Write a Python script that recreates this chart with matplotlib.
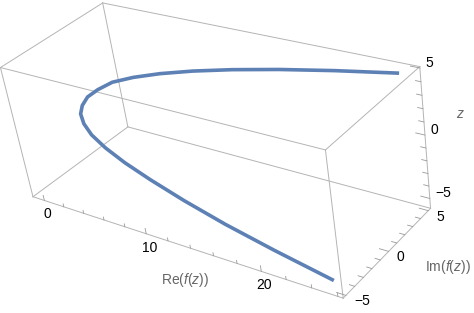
import matplotlib
matplotlib.use('Agg')
import matplotlib.pyplot as plt
from matplotlib.transforms import offset_copy

# curve points (Re f, Im f, z)
re_vals = [25.6, 20.7, 16.3, 12.4, 9.0, 6.25, 4.0, 2.25, 1.1, 0.4, 0.2,
           0.4, 1.1, 2.25, 4.0, 6.25, 9.0, 12.25, 16.0, 20.25, 25.0]
im_vals = [-5.0, -4.5, -4.0, -3.5, -3.0, -2.5, -2.0, -1.5, -1.0, -0.5, 0.0,
           0.5, 1.0, 1.5, 2.0, 2.5, 3.0, 3.5, 4.0, 4.5, 5.0]
z_vals = [-4.9, -4.45, -4.0, -3.5, -3.0, -2.6, -2.2, -1.8, -1.4, -1.0, -0.6,
          -0.1, 0.4, 1.0, 1.5, 2.0, 2.5, 3.0, 3.5, 4.0, 4.5]

re_ticks = [0, 10, 20]
im_ticks = [-5, 0, 5]
z_ticks = [-5, 0, 5]

re_lim = (-1.2, 26.4)
im_lim = (-5.3, 5.3)
z_lim = (-5.8, 5.1)

line_col = '#5e81b5'
box_col = '#b4b4b4'
tick_col = '#999999'
lab_col = '#666666'

plt.rcParams['font.family'] = 'Liberation Sans'
plt.rcParams['mathtext.fontset'] = 'custom'
plt.rcParams['mathtext.rm'] = 'Liberation Sans'
plt.rcParams['mathtext.it'] = 'Liberation Sans:italic'

fig = plt.figure(figsize=(4.74, 3.13), dpi=100)
ax = fig.add_axes([-0.3986, -0.2892, 1.6604, 1.6604], projection='3d',
                  proj_type='persp', focal_length=0.4802)
ax.set_axis_off()
ax.set_xlim(re_lim)
ax.set_ylim(im_lim)
ax.set_zlim(z_lim)
ax.set_box_aspect((1, 0.4034, 0.3990), zoom=0.85)
ax.view_init(elev=29.865, azim=-47.889, roll=9.551)

x0, x1 = re_lim
y0, y1 = im_lim
z0, z1 = z_lim

# bounding box, 12 edges
for ya in (y0, y1):
    for za in (z0, z1):
        ax.plot((x0, x1), (ya, ya), (za, za), color=box_col, lw=0.7)
for xa in (x0, x1):
    for za in (z0, z1):
        ax.plot((xa, xa), (y0, y1), (za, za), color=box_col, lw=0.7)
for xa in (x0, x1):
    for ya in (y0, y1):
        ax.plot((xa, xa), (ya, ya), (z0, z1), color=box_col, lw=0.7)

# tick marks
for v in range(0, 27, 2):
    L = 0.45 if v % 10 == 0 else 0.25
    ax.plot((v, v), (y0, y0), (z0, z0 + L), color=tick_col, lw=0.6)
for v in range(-5, 6):
    L = 0.7 if v % 5 == 0 else 0.4
    ax.plot((x1, x1 - L), (v, v), (z0, z0), color=tick_col, lw=0.6)
for v in range(-5, 6):
    L = 0.7 if v % 5 == 0 else 0.4
    ax.plot((x1, x1 - L), (y1, y1), (v, v), color=tick_col, lw=0.6)


def off(dx, dy):
    return offset_copy(ax.transData, fig=fig, x=dx, y=dy, units='dots')


for v in re_ticks:
    ax.text(v, y0, z0, str(v), ha='center', va='center', fontsize=10,
            transform=off(3, -14))
for v in im_ticks:
    ax.text(x1, v, z0, str(v).replace('-', '\u2212'), ha='left', va='center',
            fontsize=10, transform=off(8, -6))
for v in z_ticks:
    ax.text(x1, y1, v, str(v).replace('-', '\u2212'), ha='left', va='center',
            fontsize=10, transform=off(6, 5))

ax.text(13.5, y0, z0, r'Re$(f(z))$', ha='center', va='center', fontsize=10,
        color=lab_col, transform=off(0, -34))
ax.text(x1, 0, z0, r'Im$(f(z))$', ha='left', va='center', fontsize=10,
        color=lab_col, transform=off(36, -16))
ax.text(x1, y1, 1.5, r'$z$', ha='left', va='center', fontsize=10,
        color=lab_col, transform=off(33, 1))

ax.plot(re_vals, im_vals, z_vals, color=line_col, lw=2.6, solid_capstyle='butt')

fig.savefig('out.png', dpi=100)
